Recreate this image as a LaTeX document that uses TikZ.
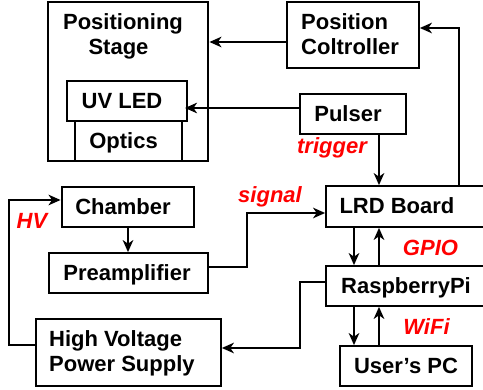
\documentclass[tikz,border=0pt]{standalone}
\usepackage{fontspec}
\setmainfont{Liberation Sans}
\usetikzlibrary{arrows.meta,calc}
\definecolor{lblred}{RGB}{255,0,0}
\begin{document}
\begin{tikzpicture}[x=1pt,y=-1pt,
  every node/.style={font=\fontsize{22}{25}\selectfont\bfseries},
  box/.style={draw,line width=1.7pt,inner sep=0pt,text height=15.75pt,text depth=0pt},
  thickbox/.style={box,line width=2.9pt},
  txt/.style={inner sep=0pt,text height=15.75pt,text depth=0pt},
  lbl/.style={inner sep=0pt,anchor=base,text=lblred,font=\fontsize{22}{25}\selectfont\bfseries\itshape},
  arr/.style={line width=2.3pt,-{Stealth[length=12pt,width=10.5pt,inset=3.5pt]}},
  wire/.style={line width=2.3pt}]
\useasboundingbox (0,0) rectangle (483,390);
% Positioning stage group
\node[thickbox,minimum width=160pt,minimum height=159pt] (stage) at (128,81.5) {};
\node[inner sep=0pt,anchor=base] (stage1) at (123,30) {Positioning};
\node[inner sep=0pt,anchor=base] (stage2) at (118.5,55) {Stage};
\node[box,line width=1.3pt,minimum width=107pt,minimum height=40pt] (optics) at (128.5,141) {\hspace*{-10pt}Optics};
\node[box,line width=2pt,fill=white,minimum width=120pt,minimum height=40pt] (uvled) at (127,101) {\hspace*{-10pt}UV LED};
% Position controller
\node[box,minimum width=132pt,minimum height=66pt] (pc) at (353,35) {};
\node[inner sep=0pt,anchor=base west] (pc1) at (301,29.5) {Position};
\node[inner sep=0pt,anchor=base west] (pc2) at (301,55) {Coltroller};
% Pulser
\node[box,minimum width=106pt,minimum height=40pt] (pulser) at (353,114) {\hspace*{-10pt}Pulser};
% LRD Board
\node[box,minimum width=170pt,minimum height=41pt] (lrd) at (411,206.5) {};
\node[txt] (lrdt) at (397,205.5) {LRD Board};
% RaspberryPi
\node[box,minimum width=170pt,minimum height=40pt] (rpi) at (411,286) {};
\node[txt] (rpit) at (406,285.2) {RaspberryPi};
% User's PC
\node[box,minimum width=132pt,minimum height=40pt] (pcuser) at (406,366) {User’s PC};
% Chamber
\node[thickbox,minimum width=132pt,minimum height=40pt] (chamber) at (128,207) {\hspace*{-10pt}Chamber};
% Preamplifier
\node[box,minimum width=159pt,minimum height=40pt] (preamp) at (128.5,273) {\hspace*{-3pt}Preamplifier};
% HV power supply
\node[box,minimum width=185pt,minimum height=67pt] (hvps) at (128.5,352.5) {};
\node[inner sep=0pt,anchor=base west] (hv1) at (49,347) {High Voltage};
\node[inner sep=0pt,anchor=base west] (hv2) at (49,372) {Power Supply};
% connectors
\draw[arr] ([yshift=-7pt]pc.west) -- ([yshift=-7pt]pc.west -| stage.east);
\draw[arr,shorten >=-3pt] ([yshift=6pt]pulser.west) -- ([yshift=6pt]pulser.west -| uvled.east);
\draw[arr] ([xshift=26pt]pulser.south) -- ([xshift=26pt]pulser.south |- lrd.north);
\coordinate (c1) at (459,28);
\draw[arr] (c1 |- lrd.north) -- (c1) -- (c1 -| pc.east);
\draw[arr] (chamber.south) -- (chamber.south |- preamp.north);
\coordinate (c2) at (247,267);
\coordinate (c3) at (247,213);
\draw[arr] (c2 -| preamp.east) -- (c2) -- (c3) -- (c3 -| lrd.west);
\coordinate (c4) at (9,345);
\coordinate (c5) at (9,200);
\draw[arr] (c4 -| hvps.west) -- (c4) -- (c5) -- (c5 -| chamber.west);
\coordinate (c6) at (300,282);
\coordinate (c7) at (300,348);
\draw[arr] (c6 -| rpi.west) -- (c6) -- (c7) -- (c7 -| hvps.east);
\coordinate (xa) at (354,0);
\coordinate (xb) at (379,0);
\draw[arr] (xa |- lrd.south) -- (xa |- rpi.north);
\draw[arr] (xb |- rpi.north) -- (xb |- lrd.south);
\draw[arr] (xa |- rpi.south) -- (xa |- pcuser.north);
\draw[arr] (xb |- pcuser.north) -- (xb |- rpi.south);
% labels
\node[lbl] (ltrig) at (332,154) {trigger};
\node[lbl] (lsig) at (270,203) {signal};
\node[lbl] (lhv) at (32,229) {HV};
\node[lbl] (lgpio) at (430.5,255.5) {GPIO};
\node[lbl] (lwifi) at (426.5,334.5) {WiFi};
\end{tikzpicture}
\end{document}
